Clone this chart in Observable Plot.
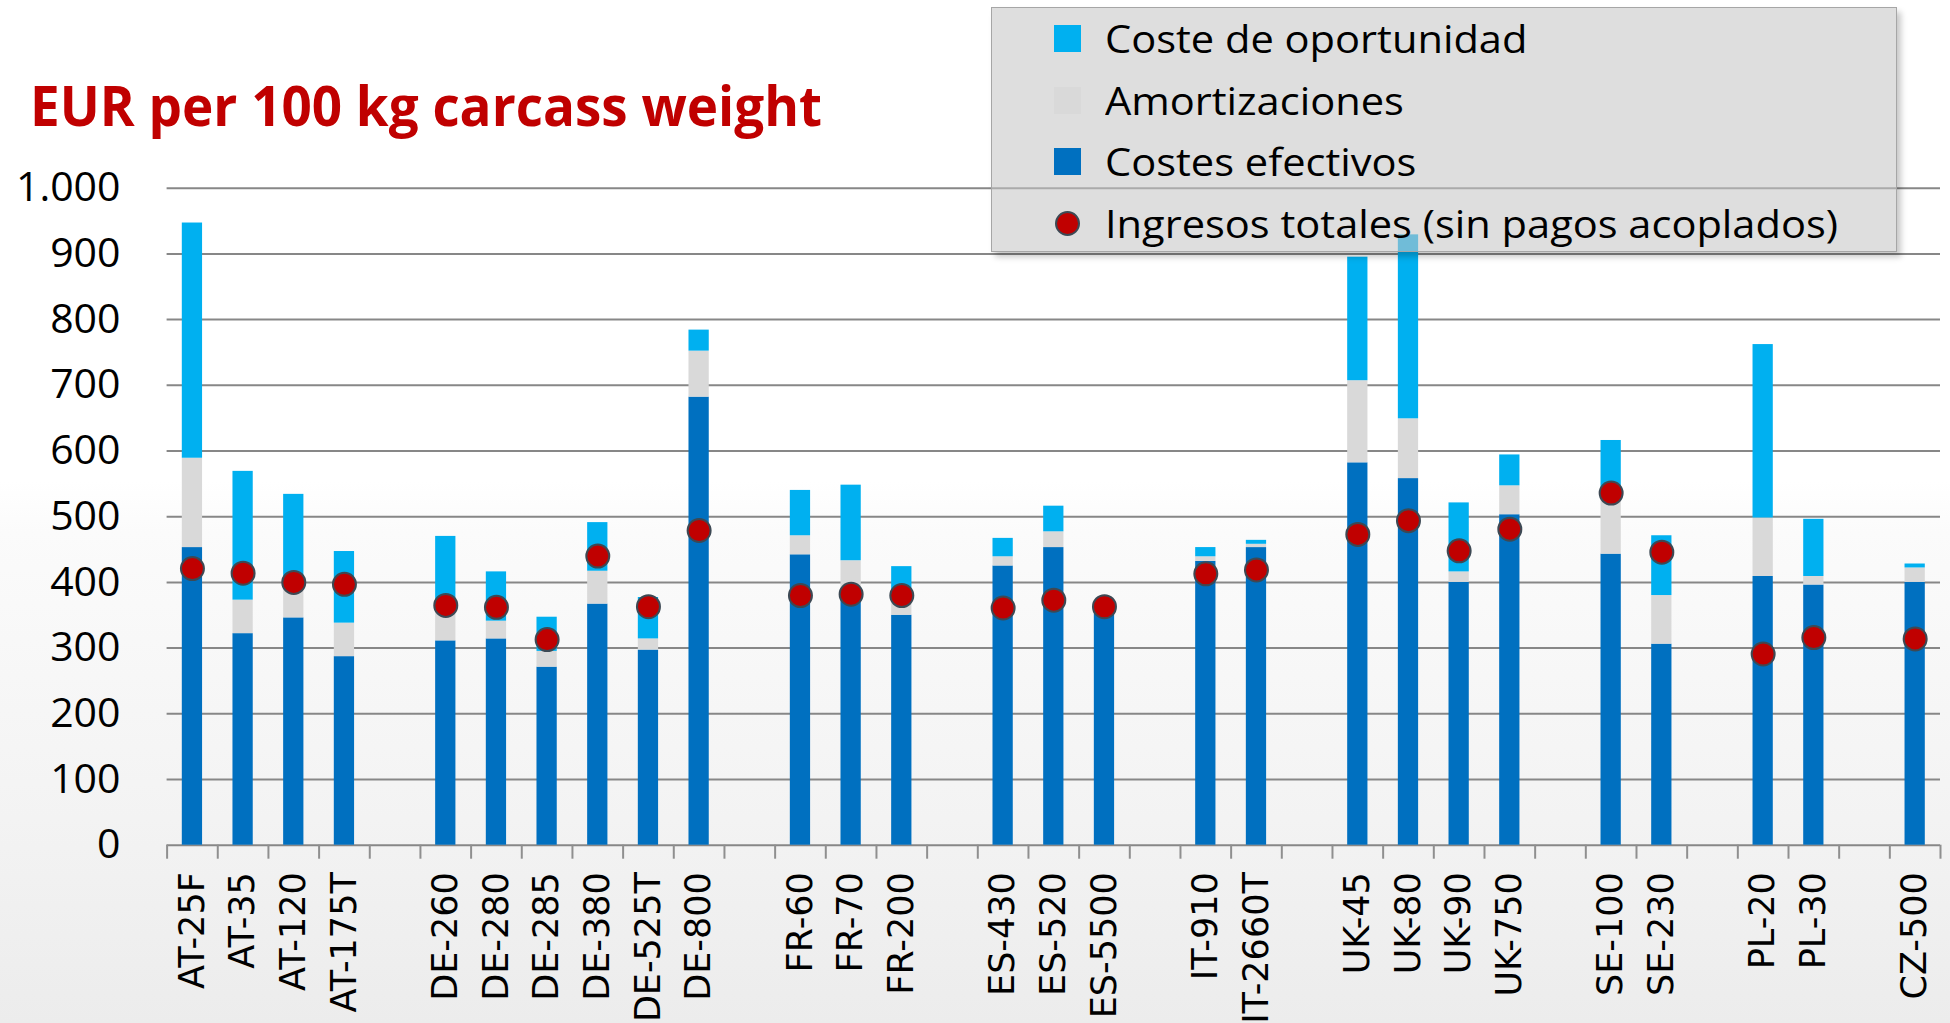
<!DOCTYPE html>
<html>
<head>
<meta charset="utf-8">
<script src="https://cdn.jsdelivr.net/npm/d3@7"></script>
<script src="https://cdn.jsdelivr.net/npm/@observablehq/plot@0.6"></script>
<style>
html, body { margin: 0; padding: 0; }
body {
  width: 1950px; height: 1023px; overflow: hidden;
  background: linear-gradient(180deg, #ffffff 0%, #ffffff 47%, #fbfbfb 52%, #f3f3f3 80%, #ececec 100%);
}
#wrap { position: relative; width: 1950px; height: 1023px; }
#title {
  position: absolute; left: 30px; top: 76px;
  font-family: "Open Sans", sans-serif; font-weight: 700; font-size: 56px;
  line-height: 1; color: #C00000; white-space: nowrap; transform-origin: 0 0;
}
#chart { position: absolute; left: 0; top: 150px; }
#legend {
  position: absolute; left: 991px; top: 7px; width: 904px; height: 243px;
  background: rgba(197,197,197,0.57);
  border: 1.5px solid #a6a6a6;
  box-shadow: 4px 5px 6px rgba(0,0,0,0.22);
}
.row { position: absolute; left: 0; height: 40px; display: flex; align-items: center; }
.sw { position: absolute; left: 62px; width: 27px; height: 27px; }
.lbl {
  position: absolute; left: 113px; white-space: nowrap;
  font-family: "Open Sans", sans-serif; font-size: 38px; line-height: 1; color: #000;
  transform-origin: 0 50%;
}
</style>
</head>
<body>
<div id="wrap">
  <div id="title"></div>
  <div id="chart"></div>
  <div id="legend"></div>
</div>
<script>
// ---- Data (EUR per 100 kg carcass weight) ----
const titleText = "EUR per 100 kg carcass weight";
const farms = ["AT-25F","AT-35","AT-120","AT-175T","DE-260","DE-280","DE-285","DE-380","DE-525T","DE-800",
  "FR-60","FR-70","FR-200","ES-430","ES-520","ES-5500","IT-910","IT-2660T",
  "UK-45","UK-80","UK-90","UK-750","SE-100","SE-230","PL-20","PL-30","CZ-500"];
const costesEfectivos = [453,322,346,287,311,314,271,367,297,682,
  442,390,350,425,453,360,432,453,
  582,558,400,503,443,306,409,396,400];
const amortizaciones = [136,51,44,51,51,27,24,50,17,70,
  29,43,25,14,24,0,7,5,
  125,91,16,44,92,74,89,13,22];
const costeOportunidad = [358,196,144,109,108,75,52,74,63,32,
  69,115,49,28,39,0,14,6,
  188,280,105,47,81,91,264,87,6];
const ingresosTotales = [421,414,400,397,365,362,313,440,363,479,
  380,382,380,361,373,363,413,419,
  473,494,448,481,536,446,291,316,314];
const yTicks = [0,100,200,300,400,500,600,700,800,900,1000];
const seriesNames = ["Coste de oportunidad","Amortizaciones","Costes efectivos","Ingresos totales (sin pagos acoplados)"];
const seriesColors = ["#00B0F0","#D9D9D9","#0070C0","#C00000"];

// ---- Build table ----
const domain = [];
farms.forEach((f, i) => {
  const c = f.split("-")[0];
  if (i > 0 && c !== farms[i-1].split("-")[0]) domain.push("gap" + i);
  domain.push(f);
});
const stackOrder = [seriesNames[2], seriesNames[1], seriesNames[0]];
const stackValues = [costesEfectivos, amortizaciones, costeOportunidad];
const rows = [];
farms.forEach((f, i) => {
  stackOrder.forEach((s, k) => rows.push({farm: f, serie: s, value: stackValues[k][i]}));
});
const income = farms.map((f, i) => ({farm: f, value: ingresosTotales[i]}));

const fmt = d3.formatLocale({decimal: ",", thousands: ".", grouping: [3], currency: ["", "€"]}).format(",");

const W = 1950, H = 873;
const mL = 166.6, mR = 10, mT = 37.7, mB = 178.3;
const step = (W - mL - mR) / domain.length;
const lineColor = "#878787";

const chart = Plot.plot({
  width: W, height: H,
  marginLeft: mL, marginRight: mR, marginTop: mT, marginBottom: mB,
  style: {background: "transparent", overflow: "visible", color: "#000"},
  x: {domain, paddingInner: 0.6, paddingOuter: 0.3, align: 0.5, round: false, label: null},
  y: {domain: [0, 1000], label: null},
  color: {domain: seriesNames.slice(0, 3), range: seriesColors.slice(0, 3)},
  marks: [
    Plot.ruleY(yTicks, {stroke: lineColor, strokeWidth: 2}),
    Plot.barY(rows, {x: "farm", y: "value", fill: "serie"}),
    Plot.dot(income, {x: "farm", y: "value", r: 11.5, fill: seriesColors[3], stroke: "#3d4954", strokeWidth: 2}),
    Plot.axisX(domain, {tickSize: 14, tickFormat: () => "", dx: -step / 2, stroke: "#8f8f8f", strokeWidth: 2, label: null}),
    Plot.axisX([domain[domain.length - 1]], {tickSize: 14, tickFormat: () => "", dx: step / 2, stroke: "#8f8f8f", strokeWidth: 2, label: null}),
    Plot.axisX(farms, {tickSize: 0, tickRotate: -90, tickPadding: 27, fontSize: 35,
      fontFamily: "DejaVu Sans", fill: "#000", label: null}),
    Plot.axisY(yTicks, {tickSize: 0, tickPadding: 46.6, tickFormat: fmt, fontSize: 41,
      fontFamily: "Open Sans", fill: "#000", label: null})
  ]
});
document.getElementById("chart").appendChild(chart);

// ---- Title ----
const title = document.getElementById("title");
title.textContent = titleText;

// ---- Legend ----
const legend = document.getElementById("legend");
const rowCenters = [30, 92, 153, 215];
const labels = [];
seriesNames.forEach((name, i) => {
  const row = document.createElement("div");
  row.className = "row";
  row.style.top = (rowCenters[i] - 20) + "px";
  row.style.width = "100%";
  const sw = document.createElement("div");
  sw.className = "sw";
  sw.style.background = seriesColors[i];
  if (i === 3) {
    sw.style.left = "63px";
    sw.style.width = "21px"; sw.style.height = "21px";
    sw.style.borderRadius = "50%";
    sw.style.border = "2px solid #3d4954";
  }
  row.appendChild(sw);
  const lb = document.createElement("div");
  lb.className = "lbl";
  lb.textContent = name;
  row.appendChild(lb);
  labels.push(lb);
  legend.appendChild(row);
});

function fit() {
  const tw = title.getBoundingClientRect().width;
  title.style.transform = "scaleX(" + (792 / tw) + ")";
  const lw = labels[3].getBoundingClientRect().width;
  const s = 733 / lw;
  labels.forEach(l => l.style.transform = "scaleX(" + s + ")");
}
fit();
</script>
</body>
</html>
